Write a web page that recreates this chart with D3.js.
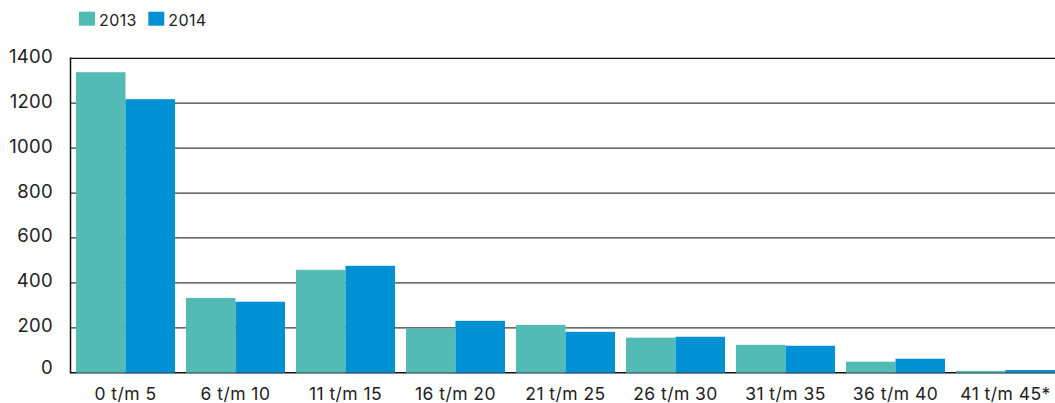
<!DOCTYPE html>
<html>
<head>
<meta charset="utf-8">
<script src="https://cdn.jsdelivr.net/npm/d3@7"></script>
<style>
  html, body { margin: 0; padding: 0; background: #fff; }
  svg { display: block; }
  text { font-family: Inter, "Noto Sans", sans-serif; fill: #222; }
</style>
</head>
<body>
<svg id="chart" width="1055" height="403"></svg>
<script>
const categories = ["0 t/m 5", "6 t/m 10", "11 t/m 15", "16 t/m 20", "21 t/m 25", "26 t/m 30", "31 t/m 35", "36 t/m 40", "41 t/m 45*"];
const seriesNames = ["2013", "2014"];
const values2013 = [1338, 333, 458, 197, 213, 156, 124, 49, 8];
const values2014 = [1218, 316, 476, 231, 182, 160, 120, 62, 12];
const tickValues = [0, 200, 400, 600, 800, 1000, 1200, 1400];
const colors = ["#52bbb5", "#0091d5"];

const svg = d3.select("#chart");
const plotLeft = 70.5, plotTop = 58.3, plotBottom = 372.7, plotRight = 1055;

const x = d3.scaleBand().domain(categories).range([70.5, 1060.5]).paddingInner(0.1).paddingOuter(0.05);
const xs = d3.scaleBand().domain(seriesNames).range([0, x.bandwidth()]);
const y = d3.scaleLinear().domain([0, 1400]).range([plotBottom, plotTop]);

// gridlines
svg.append("g").selectAll("line").data(tickValues.filter(d => d > 0)).join("line")
  .attr("x1", plotLeft).attr("x2", plotRight)
  .attr("y1", d => y(d)).attr("y2", d => y(d))
  .attr("stroke", d => d === 1400 ? "#111" : "#3a3a3a").attr("stroke-width", 1.3);

// axes lines (under bars)
svg.append("line").attr("x1", plotLeft).attr("x2", plotRight).attr("y1", plotBottom).attr("y2", plotBottom)
  .attr("stroke", "#111").attr("stroke-width", 1.5);

// bars
const data = categories.map((c, i) => ({ cat: c, vals: [values2013[i], values2014[i]] }));
const g = svg.append("g").selectAll("g").data(data).join("g")
  .attr("transform", d => `translate(${x(d.cat)},0)`);
g.selectAll("rect").data(d => d.vals.map((v, j) => ({ v, s: seriesNames[j], j }))).join("rect")
  .attr("x", d => xs(d.s))
  .attr("width", xs.bandwidth())
  .attr("y", d => y(d.v))
  .attr("height", d => y(0) - y(d.v))
  .attr("fill", d => colors[d.j]);

svg.append("line").attr("x1", plotLeft).attr("x2", plotLeft).attr("y1", plotTop - 0.7).attr("y2", plotBottom + 0.7)
  .attr("stroke", "#111").attr("stroke-width", 1.5);

// y tick labels
svg.append("g").selectAll("text").data(tickValues).join("text")
  .attr("x", 53)
  .attr("y", d => y(d) + (d === 0 ? -6 : -2.5))
  .attr("text-anchor", "end")
  .attr("dominant-baseline", "central")
  .attr("font-size", 18.5)
  .attr("letter-spacing", 0.3)
  .text(d => d);

// x labels
svg.append("g").selectAll("text").data(categories).join("text")
  .attr("x", d => x(d) + x.bandwidth() / 2)
  .attr("y", 399.5)
  .attr("text-anchor", "middle")
  .attr("font-size", 17.5)
  .attr("letter-spacing", 0.45)
  .text(d => d);

// legend
const lg = svg.append("g");
const legendX = [79, 148.3];
seriesNames.forEach((s, i) => {
  lg.append("rect").attr("x", legendX[i]).attr("y", 11.7).attr("width", 16).attr("height", 14).attr("fill", colors[i]);
  lg.append("text").attr("x", legendX[i] + 20).attr("y", 26).attr("font-size", 16).attr("letter-spacing", 0.4).text(s);
});
</script>
</body>
</html>
